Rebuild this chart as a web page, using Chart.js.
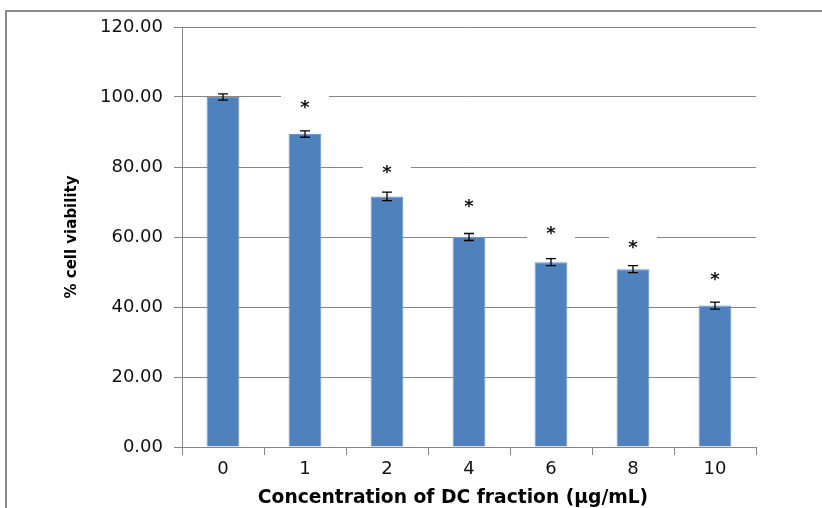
<!DOCTYPE html>
<html>
<head>
<meta charset="utf-8">
<script src="https://cdn.jsdelivr.net/npm/chart.js@4.4.1/dist/chart.umd.min.js"></script>
<style>
  html, body { margin: 0; padding: 0; background: #fff; }
  #wrap { width: 822px; height: 508px; }
</style>
</head>
<body>
<div id="wrap"><canvas id="viability-chart" width="822" height="508"></canvas></div>
<script>
const concentrations = ["0", "1", "2", "4", "6", "8", "10"];
const viability = [100.0, 89.4, 71.6, 60.0, 52.8, 50.8, 40.4];
const viabilityErr = [0.9, 0.9, 1.2, 1.0, 1.0, 1.0, 1.0];
// where the significance star sits (same units as the y axis), null = no star
const starLevel = [null, 97.7, 79.1, 69.4, 61.7, 57.7, 48.6];
const yTicks = [0, 20, 40, 60, 80, 100, 120];

const ctx = document.getElementById("viability-chart");

// frame, error bars, stars and axis titles
const extras = {
    id: "extras",
    beforeDraw(chart) {
        const c = chart.ctx;
        c.save();
        c.strokeStyle = "#8c8c8c";
        c.lineWidth = 2;
        c.beginPath();
        c.moveTo(6, 600);
        c.lineTo(6, 11);
        c.lineTo(900, 11);
        c.stroke();
        c.restore();
    },
    afterDatasetsDraw(chart) {
        const c = chart.ctx;
        const y = chart.scales.y;
        const meta = chart.getDatasetMeta(0);
        c.save();
        meta.data.forEach((bar, i) => {
            const x = bar.x;
            const hi = y.getPixelForValue(viability[i] + viabilityErr[i]);
            const lo = y.getPixelForValue(viability[i] - viabilityErr[i]);
            c.strokeStyle = "#000";
            c.lineWidth = 1.3;
            c.beginPath();
            c.moveTo(x, hi); c.lineTo(x, lo);
            c.moveTo(x - 5, hi); c.lineTo(x + 5, hi);
            c.moveTo(x - 5, lo); c.lineTo(x + 5, lo);
            c.stroke();
            if (starLevel[i] !== null) {
                const sy = y.getPixelForValue(starLevel[i]);
                c.fillStyle = "#fff";
                c.fillRect(x - 24, sy - 11, 48, 22);
                c.fillStyle = "#111";
                c.font = "bold 18px 'DejaVu Sans'";
                c.textAlign = "center";
                c.textBaseline = "middle";
                c.fillText("*", x, sy + 3);
            }
        });
        c.restore();
    },
    afterDraw(chart) {
        const c = chart.ctx;
        c.save();
        c.fillStyle = "#000";
        c.textAlign = "center";
        c.textBaseline = "middle";
        c.font = "bold 18.7px 'DejaVu Sans'";
        c.fillText("Concentration of DC fraction (\u00b5g/mL)", 453, 498);
        c.translate(72, 237);
        c.rotate(-Math.PI / 2);
        c.font = "bold 15px 'DejaVu Sans'";
        c.fillText("% cell viability", 0, 0);
        c.restore();
    },
};

let viabilityChart = new Chart(ctx, {
    type: "bar",
    data: {
        labels: concentrations,
        datasets: [
            {
                label: "% cell viability",
                data: viability,
                backgroundColor: "#4f81bd",
                borderColor: "#6f97c9",
                borderWidth: 1,
                categoryPercentage: 1.0,
                barPercentage: 0.4,
            },
        ],
    },
    options: {
        responsive: false,
        animation: false,
        layout: {
            padding: { left: 6, right: 66, top: 27, bottom: 0 },
        },
        plugins: {
            legend: { display: false },
            tooltip: { enabled: false },
        },
        scales: {
            x: {
                grid: {
                    drawOnChartArea: false,
                    drawTicks: true,
                    tickLength: 8,
                    color: "#868686",
                    offset: true,
                },
                border: { color: "#868686", width: 1 },
                ticks: {
                    color: "#111",
                    font: { family: "DejaVu Sans", size: 18 },
                    padding: 4,
                },
                afterFit(scale) {
                    scale.height = 61;
                },
            },
            y: {
                min: 0,
                max: 120,
                afterBuildTicks(scale) {
                    scale.ticks = yTicks.map((v) => ({ value: v }));
                },
                grid: {
                    color: "#868686",
                    tickLength: 8,
                },
                border: { color: "#868686", width: 1 },
                ticks: {
                    color: "#111",
                    font: { family: "DejaVu Sans", size: 18 },
                    padding: 11,
                    callback: (v) => v.toFixed(2),
                },
                afterFit(scale) {
                    scale.width = 176;
                },
            },
        },
    },
    plugins: [extras],
});
</script>
</body>
</html>
